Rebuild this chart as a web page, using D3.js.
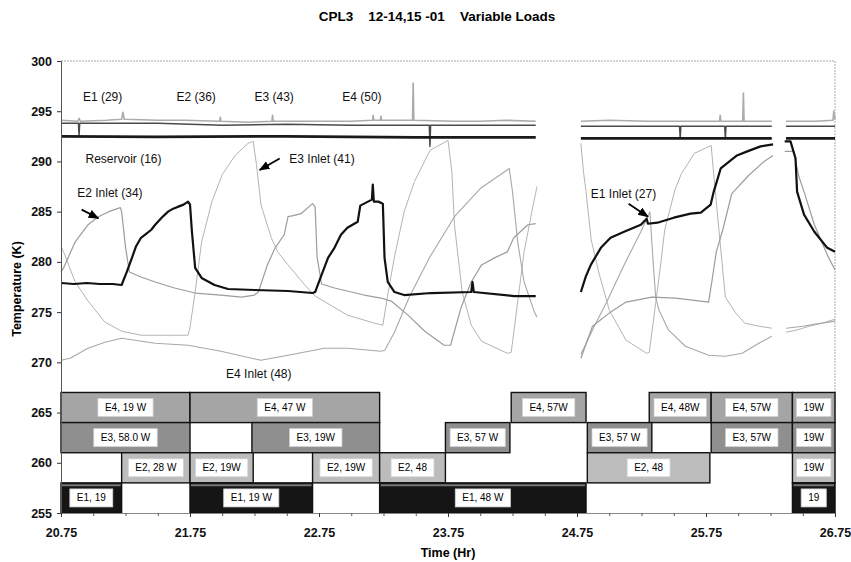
<!DOCTYPE html>
<html>
<head>
<meta charset="utf-8">
<script src="https://d3js.org/d3.v7.min.js"></script>
<style>
  body { margin: 0; background: #fff; }
  svg { font-family: "Liberation Sans", Arial, sans-serif; }
</style>
</head>
<body>
<div id="chart"></div>
<script>
// ---- data (time in hr, temperature in K) ----
const titleText = "CPL3    12-14,15 -01    Variable Loads";
const xTicks = [20.75, 21.75, 22.75, 23.75, 24.75, 25.75, 26.75];
const yTicks = [255, 260, 265, 270, 275, 280, 285, 290, 295, 300];

// null = gap in the recording
const e1Inlet = [[20.75,277.9],[20.85,277.8],[20.95,277.9],[21.05,277.8],[21.15,277.8],[21.22,277.7],[21.26,279.0],[21.30,280.4],[21.33,281.5],[21.37,282.4],[21.41,282.8],[21.45,283.2],[21.48,283.7],[21.53,284.4],[21.58,285.0],[21.62,285.3],[21.66,285.5],[21.70,285.7],[21.735,286.0],[21.75,285.7],[21.765,283.0],[21.79,279.4],[21.84,278.4],[21.94,277.7],[22.045,277.3],[22.25,277.2],[22.51,277.1],[22.70,276.9],[22.72,277.0],[22.77,278.7],[22.82,280.4],[22.87,281.4],[22.92,282.7],[22.97,283.4],[23.05,284.0],[23.07,285.6],[23.13,286.0],[23.16,286.2],[23.167,287.7],[23.175,286.0],[23.21,286.0],[23.245,285.8],[23.258,280.4],[23.283,278.0],[23.335,277.0],[23.41,276.7],[23.62,276.9],[23.93,277.0],[23.94,278.0],[23.95,277.0],[24.26,276.6],[24.43,276.6],
  null,
  [24.78,277.0],[24.82,278.6],[24.857,279.7],[24.935,281.4],[25.01,282.4],[25.115,283.0],[25.245,283.7],[25.29,284.3],[25.30,283.8],[25.373,283.9],[25.50,284.4],[25.63,284.8],[25.71,284.9],[25.786,285.7],[25.81,287.0],[25.864,289.3],[25.99,290.6],[26.07,291.0],[26.173,291.5],[26.27,291.7],
  null,
  [26.36,292.0],[26.405,292.0],[26.444,290.3],[26.456,287.0],[26.51,284.7],[26.59,283.0],[26.69,281.4],[26.75,281.0]];

const e2Inlet = [[20.75,279.0],[20.77,279.4],[20.86,282.0],[20.96,283.7],[21.04,284.5],[21.12,285.0],[21.21,285.4],[21.22,285.0],[21.25,281.5],[21.28,279.0],[21.37,278.5],[21.48,278.0],[21.63,277.4],[21.79,276.9],[21.99,276.7],[22.15,276.5],[22.25,276.7],[22.28,277.0],[22.35,279.7],[22.41,281.4],[22.48,282.7],[22.51,284.5],[22.55,284.6],[22.61,284.8],[22.70,285.8],[22.72,285.5],[22.735,280.5],[22.77,277.8],[22.87,277.4],[23.10,276.7],[23.23,276.4],[23.31,276.1],[23.44,274.7],[23.57,273.1],[23.72,271.7],[23.77,271.7],[23.85,275.4],[23.93,278.0],[24.01,279.7],[24.11,280.4],[24.21,281.0],[24.26,282.4],[24.37,283.7],[24.43,283.8],
  null,
  [24.78,270.4],[24.87,273.6],[25.0,274.9],[25.13,276.0],[25.33,276.5],[25.515,276.4],[25.77,276.0],[25.795,278.0],[25.83,281.0],[25.88,283.2],[25.95,286.8],[26.08,288.6],[26.20,290.0],[26.27,290.6],
  null,
  [26.36,291.0],[26.43,291.0],[26.445,290.0],[26.47,288.5],[26.51,287.0],[26.59,283.7],[26.69,280.7],[26.75,279.2]];

const e3Inlet = [[20.75,281.5],[20.77,281.0],[20.86,278.0],[20.96,276.1],[21.09,274.0],[21.22,273.1],[21.37,272.7],[21.735,272.7],[21.75,273.5],[21.79,277.0],[21.84,282.0],[21.92,286.0],[22.0,288.7],[22.10,290.6],[22.20,291.8],[22.24,292.0],[22.265,289.7],[22.30,285.7],[22.38,282.4],[22.43,281.0],[22.51,279.7],[22.64,277.7],[22.72,276.6],[22.97,274.7],[23.18,273.9],[23.245,273.7],[23.28,276.5],[23.335,280.5],[23.41,285.0],[23.49,288.0],[23.61,291.1],[23.75,292.1],[23.78,289.0],[23.80,283.7],[23.86,277.0],[23.93,273.7],[24.01,272.1],[24.21,270.9],[24.24,271.0],[24.29,276.0],[24.34,281.0],[24.40,285.0],[24.44,287.5],
  null,
  [24.78,291.8],[24.80,289.0],[24.82,287.0],[24.86,282.2],[24.92,278.9],[25.0,275.2],[25.13,272.2],[25.29,270.9],[25.31,271.0],[25.35,274.9],[25.40,279.9],[25.43,283.2],[25.51,287.2],[25.56,288.8],[25.66,290.8],[25.79,291.6],[25.81,288.7],[25.85,283.2],[25.90,276.5],[25.98,274.9],[26.05,273.9],[26.16,273.6],[26.26,273.4],
  null,
  [26.37,273.0],[26.45,273.2],[26.55,273.6],[26.65,273.9],[26.75,274.3]];

const e4Inlet = [[20.75,270.2],[20.82,270.4],[20.96,271.4],[21.09,272.0],[21.22,272.4],[21.48,271.9],[21.735,271.7],[21.99,271.1],[22.30,270.2],[22.51,270.7],[22.79,271.4],[22.97,271.4],[23.23,271.1],[23.26,271.2],[23.335,273.0],[23.45,276.5],[23.61,280.5],[23.80,284.5],[24.0,287.3],[24.225,289.3],[24.25,287.0],[24.29,282.0],[24.34,278.0],[24.42,275.0],[24.44,274.5],
  null,
  [24.78,270.8],[24.88,273.5],[24.98,276.0],[25.115,279.7],[25.245,283.0],[25.315,285.0],[25.34,280.0],[25.36,276.5],[25.385,275.2],[25.46,273.2],[25.59,271.6],[25.77,270.7],[25.90,270.6],[26.03,270.9],[26.16,271.9],[26.26,272.6],
  null,
  [26.37,273.4],[26.5,273.6],[26.6,273.8],[26.75,274.1]];

const evapOutlets = [[20.75,294.1],[20.88,294.0],[20.89,294.3],[20.90,294.0],[21.1,294.1],[21.22,294.2],[21.23,294.9],[21.24,294.2],[21.5,294.1],[21.7,294.1],[21.98,294.0],[21.985,294.4],[21.99,294.0],[22.2,293.9],[22.385,294.0],[22.39,294.6],[22.395,294.0],[22.7,294.0],[23.0,294.0],[23.165,294.1],[23.17,294.6],[23.175,294.1],[23.225,294.1],[23.23,294.5],[23.235,294.1],[23.475,294.1],[23.48,297.8],[23.485,294.1],[23.8,294.0],[24.0,294.0],[24.2,294.1],[24.43,294.0],
  null,
  [24.78,294.0],[25.0,294.1],[25.3,294.0],[25.6,294.0],[25.855,294.0],[25.86,294.6],[25.865,294.0],[26.035,294.0],[26.04,296.8],[26.045,294.0],[26.26,294.0],
  null,
  [26.37,294.0],[26.6,294.0],[26.735,294.1],[26.74,295.0],[26.75,294.2]];

const vaporLine = [[20.75,293.8],[20.885,293.8],[20.89,292.6],[20.895,293.8],[21.5,293.8],[21.75,293.7],[22.0,293.6],[22.5,293.7],[23.0,293.6],[23.5,293.6],[23.605,293.6],[23.61,291.5],[23.615,293.6],[24.0,293.6],[24.43,293.6],
  null,
  [24.78,293.5],[25.2,293.5],[25.545,293.5],[25.55,292.3],[25.555,293.5],[25.895,293.5],[25.9,292.3],[25.905,293.5],[26.26,293.5],
  null,
  [26.37,293.5],[26.75,293.5]];

const reservoir = [[20.75,292.5],[21.5,292.45],[22.5,292.5],[23.5,292.4],[24.43,292.4],
  null,
  [24.78,292.3],[25.5,292.3],[26.26,292.3],
  null,
  [26.37,292.3],[26.75,292.3]];

// heat load schedule: evaporator, start hr, end hr, label
const rowRange = { E1: [255, 258], E2: [258, 261], E3: [261, 264], E4: [264, 267] };
const loadBlocks = [
  ["E4", 20.75, 21.75, "E4, 19 W"],
  ["E4", 21.75, 23.22, "E4, 47 W"],
  ["E4", 24.24, 24.82, "E4, 57W"],
  ["E4", 25.31, 25.79, "E4, 48W"],
  ["E4", 25.79, 26.42, "E4, 57W"],
  ["E4", 26.42, 26.75, "19W"],
  ["E3", 20.75, 21.75, "E3, 58.0 W"],
  ["E3", 22.23, 23.22, "E3, 19W"],
  ["E3", 23.73, 24.23, "E3, 57 W"],
  ["E3", 24.83, 25.33, "E3, 57 W"],
  ["E3", 25.79, 26.42, "E3, 57W"],
  ["E3", 26.42, 26.75, "19W"],
  ["E2", 21.22, 21.75, "E2, 28 W"],
  ["E2", 21.75, 22.24, "E2, 19W"],
  ["E2", 22.70, 23.22, "E2, 19W"],
  ["E2", 23.22, 23.73, "E2, 48"],
  ["E2", 24.83, 25.78, "E2, 48"],
  ["E2", 26.42, 26.75, "19W"],
  ["E1", 20.75, 21.22, "E1, 19"],
  ["E1", 21.75, 22.70, "E1, 19 W"],
  ["E1", 23.22, 24.82, "E1, 48 W"],
  ["E1", 26.42, 26.75, "19"]
];

// annotations in data units
const curveLabels = [
  ["E1 (29)", 20.92, 295.97], ["E2 (36)", 21.645, 295.97], ["E3 (43)", 22.25, 295.97], ["E4 (50)", 22.93, 295.97],
  ["Reservoir (16)", 20.94, 289.84], ["E2 Inlet (34)", 20.876, 286.5], ["E3 Inlet (41)", 22.52, 289.84],
  ["E4 Inlet (48)", 22.03, 268.43], ["E1 Inlet (27)", 24.857, 286.35]
];
const arrows = [[20.91, 285.2, 21.04, 284.35], [22.445, 290.3, 22.29, 289.15], [25.15, 285.8, 25.30, 284.5]];

// ---- drawing ----
const width = 851, height = 562;
const margin = { top: 61, right: 16, bottom: 49, left: 61 };

const x = d3.scaleLinear().domain([20.75, 26.75]).range([margin.left, width - margin.right]);
const y = d3.scaleLinear().domain([255, 300]).range([height - margin.bottom, margin.top]);

const svg = d3.select("#chart").append("svg")
    .attr("width", width)
    .attr("height", height);

svg.append("defs").append("marker")
    .attr("id", "arrow")
    .attr("viewBox", "0 0 10 10")
    .attr("refX", 9).attr("refY", 5)
    .attr("markerWidth", 6).attr("markerHeight", 6)
    .attr("orient", "auto")
    .append("path")
    .attr("d", "M0,1 L10,5 L0,9 Z")
    .attr("fill", "#000");

// plot frame (top/right dotted)
svg.append("path")
    .attr("d", `M${x(20.75)},${y(300)} H${x(26.75)} V${y(255)}`)
    .attr("fill", "none")
    .attr("stroke", "#aaa")
    .attr("stroke-dasharray", "2,1");

// load blocks
const blockFill = { E1: "#151515", E2: "#bcbcbc", E3: "#8f8f8f", E4: "#a5a5a5" };
const blocks = svg.append("g");
blocks.selectAll("rect")
    .data(loadBlocks)
    .enter().append("rect")
    .attr("x", d => x(d[1]))
    .attr("y", d => y(rowRange[d[0]][1]))
    .attr("width", d => x(d[2]) - x(d[1]))
    .attr("height", d => y(rowRange[d[0]][0]) - y(rowRange[d[0]][1]))
    .attr("fill", d => blockFill[d[0]])
    .attr("stroke", "#111")
    .attr("stroke-width", 1.4);

// scanned E1 bars show a grey strip under the top edge
blocks.selectAll("line.strip")
    .data(loadBlocks.filter(d => d[0] === "E1"))
    .enter().append("line")
    .attr("x1", d => x(d[1]) + 1).attr("x2", d => x(d[2]) - 1)
    .attr("y1", d => y(rowRange.E1[1]) + 2.5).attr("y2", d => y(rowRange.E1[1]) + 2.5)
    .attr("stroke", "#777")
    .attr("stroke-width", 2);

const tags = blocks.selectAll("g.tag")
    .data(loadBlocks)
    .enter().append("g")
    .attr("class", "tag")
    .attr("transform", d => `translate(${(x(d[1]) + x(d[2])) / 2},${y((rowRange[d[0]][0] + rowRange[d[0]][1]) / 2)})`);

tags.append("text")
    .attr("text-anchor", "middle")
    .attr("dy", "0.35em")
    .attr("font-size", 10)
    .attr("fill", "#000")
    .text(d => d[3]);

tags.insert("rect", "text")
    .each(function() {
        const w = this.parentNode.querySelector("text").getComputedTextLength();
        d3.select(this)
            .attr("x", -w / 2 - 7).attr("width", w + 14)
            .attr("y", -9).attr("height", 18);
    })
    .attr("fill", "#fff")
    .attr("stroke", "#d0d0d0")
    .attr("stroke-width", 0.8);

// temperature traces
const line = d3.line()
    .defined(d => d !== null)
    .x(d => x(d[0]))
    .y(d => y(d[1]));

const traces = [
  { data: e3Inlet, color: "#b4b4b4", w: 1 },
  { data: e4Inlet, color: "#a8a8a8", w: 1.1 },
  { data: e2Inlet, color: "#9c9c9c", w: 1.2 },
  { data: evapOutlets, color: "#ababab", w: 1.6 },
  { data: vaporLine, color: "#4a4a4a", w: 1.5 },
  { data: reservoir, color: "#1a1a1a", w: 2.8 },
  { data: e1Inlet, color: "#111", w: 2.2 }
];

svg.append("g")
    .selectAll("path")
    .data(traces)
    .enter().append("path")
    .attr("d", d => line(d.data))
    .attr("fill", "none")
    .attr("stroke", d => d.color)
    .attr("stroke-width", d => d.w)
    .attr("stroke-linejoin", "round");

// annotations
svg.append("g")
    .selectAll("text")
    .data(curveLabels)
    .enter().append("text")
    .attr("x", d => x(d[1]))
    .attr("y", d => y(d[2]))
    .attr("font-size", 12)
    .attr("fill", "#111")
    .text(d => d[0]);

svg.append("g")
    .selectAll("line")
    .data(arrows)
    .enter().append("line")
    .attr("x1", d => x(d[0])).attr("y1", d => y(d[1]))
    .attr("x2", d => x(d[2])).attr("y2", d => y(d[3]))
    .attr("stroke", "#000")
    .attr("stroke-width", 1.8)
    .attr("marker-end", "url(#arrow)");

// axes
const yAxis = svg.append("g")
    .attr("transform", `translate(${margin.left},0)`)
    .call(d3.axisLeft(y).tickValues(yTicks).tickSize(4).tickPadding(5));
yAxis.select(".domain").attr("stroke", "#555");
yAxis.selectAll(".tick line").attr("stroke", "#333");
yAxis.selectAll("text").attr("font-size", 12.5).attr("font-weight", "bold").attr("fill", "#111")
    .attr("font-family", "Liberation Sans, Arial, sans-serif");

const xMinor = svg.append("g")
    .attr("transform", `translate(0,${height - margin.bottom})`)
    .call(d3.axisBottom(x).tickValues(d3.range(0, 25).map(i => 20.75 + i * 0.25)).tickSize(3).tickFormat(""));
xMinor.select(".domain").attr("stroke", "#888");
xMinor.selectAll(".tick line").attr("stroke", "#555");

const xAxis = svg.append("g")
    .attr("transform", `translate(0,${height - margin.bottom})`)
    .call(d3.axisBottom(x).tickValues(xTicks).tickFormat(d3.format(".2f")).tickSize(4).tickPadding(11));
xAxis.select(".domain").remove();
xAxis.selectAll(".tick line").attr("stroke", "#333");
xAxis.selectAll("text").attr("font-size", 12.5).attr("font-weight", "bold").attr("fill", "#111")
    .attr("font-family", "Liberation Sans, Arial, sans-serif");

// titles
svg.append("text")
    .attr("x", 437).attr("y", 21)
    .attr("text-anchor", "middle")
    .attr("font-size", 13.5).attr("font-weight", "bold")
    .style("white-space", "pre")
    .text(titleText);

svg.append("text")
    .attr("transform", `translate(21,${(y(255) + y(300)) / 2 + 2}) rotate(-90)`)
    .attr("text-anchor", "middle")
    .attr("font-size", 12.5).attr("font-weight", "bold")
    .text("Temperature (K)");

svg.append("text")
    .attr("x", (x(20.75) + x(26.75)) / 2).attr("y", 557)
    .attr("text-anchor", "middle")
    .attr("font-size", 12.5).attr("font-weight", "bold")
    .text("Time (Hr)");
</script>
</body>
</html>
